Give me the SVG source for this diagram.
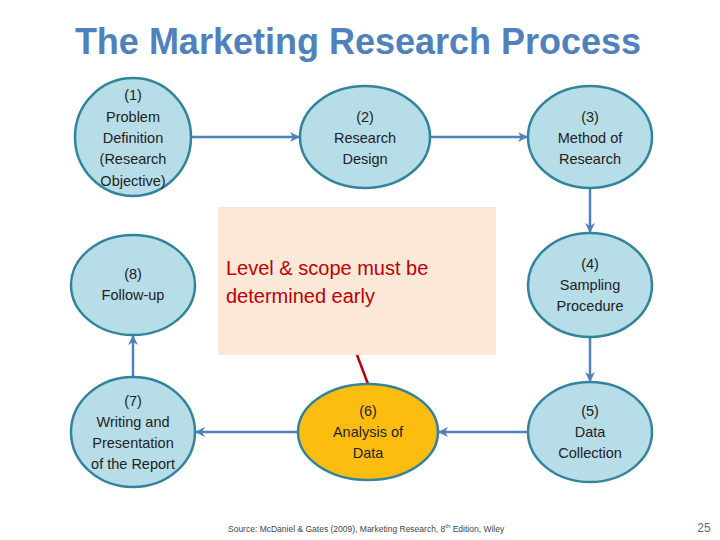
<svg xmlns="http://www.w3.org/2000/svg" width="720" height="540" viewBox="0 0 720 540">
<defs>
<style>
.n{fill:#b7dde8;stroke:#31849b;stroke-width:2.5}
.t{font-family:"Liberation Sans",Arial,sans-serif;font-size:14.5px;fill:#222;text-anchor:middle}
.c{stroke:#4f81bd;stroke-width:2.5;fill:none;marker-end:url(#a)}
</style>
<marker id="a" viewBox="0 0 10 10" refX="9" refY="5" markerWidth="4" markerHeight="4" orient="auto"><path d="M0,0L10,5L0,10L3,5z" fill="#4f81bd"/></marker>
</defs>
<rect width="720" height="540" fill="#fff"/>
<text x="358" y="54" font-family="'Liberation Sans',Arial,sans-serif" font-size="36" font-weight="bold" fill="#4f81bd" text-anchor="middle">The Marketing Research Process</text>
<g id="note"><rect x="218" y="207" width="278" height="148" fill="#fce8d8"/>
<text font-family="'Liberation Sans',Arial,sans-serif" font-size="20" fill="#c00000"><tspan x="226" y="275">Level &amp; scope must be</tspan><tspan x="226" y="303">determined early</tspan></text></g>
<g id="connectors">
<path class="c" d="M191,137H299"/>
<path class="c" d="M430,137H527"/>
<path class="c" d="M590,189V232"/>
<path class="c" d="M590,337V381"/>
<path class="c" d="M528,432H439"/>
<path class="c" d="M298,432H196"/>
<path class="c" d="M133,377V336"/>
<path d="M357,355L368,384" stroke="#c00000" stroke-width="2.5"/>
</g>
<g id="n1"><ellipse class="n" cx="133" cy="137" rx="58" ry="59"/><text class="t"><tspan x="133" y="100">(1)</tspan><tspan x="133" y="122">Problem</tspan><tspan x="133" y="143">Definition</tspan><tspan x="133" y="164">(Research</tspan><tspan x="133" y="186">Objective)</tspan></text></g>
<g id="n2"><ellipse class="n" cx="365" cy="137" rx="65" ry="51"/><text class="t"><tspan x="365" y="122">(2)</tspan><tspan x="365" y="143">Research</tspan><tspan x="365" y="164">Design</tspan></text></g>
<g id="n3"><ellipse class="n" cx="590" cy="137" rx="62" ry="51"/><text class="t"><tspan x="590" y="122">(3)</tspan><tspan x="590" y="143">Method of</tspan><tspan x="590" y="164">Research</tspan></text></g>
<g id="n4"><ellipse class="n" cx="590" cy="285" rx="62" ry="52"/><text class="t"><tspan x="590" y="269">(4)</tspan><tspan x="590" y="290">Sampling</tspan><tspan x="590" y="311">Procedure</tspan></text></g>
<g id="n5"><ellipse class="n" cx="590" cy="432" rx="62" ry="50"/><text class="t"><tspan x="590" y="416">(5)</tspan><tspan x="590" y="437">Data</tspan><tspan x="590" y="458">Collection</tspan></text></g>
<g id="n6"><ellipse cx="368" cy="432" rx="70" ry="48" fill="#fdbd10" stroke="#31849b" stroke-width="2.5"/><text class="t"><tspan x="368" y="416">(6)</tspan><tspan x="368" y="437">Analysis of</tspan><tspan x="368" y="458">Data</tspan></text></g>
<g id="n7"><ellipse class="n" cx="133" cy="432" rx="62" ry="55"/><text class="t"><tspan x="133" y="406">(7)</tspan><tspan x="133" y="427">Writing and</tspan><tspan x="133" y="448">Presentation</tspan><tspan x="133" y="469">of the Report</tspan></text></g>
<g id="n8"><ellipse class="n" cx="133" cy="285" rx="62" ry="50"/><text class="t"><tspan x="133" y="279">(8)</tspan><tspan x="133" y="300">Follow-up</tspan></text></g>
<text x="228" y="532" font-family="'Liberation Sans',Arial,sans-serif" font-size="8.5" fill="#444">Source: McDaniel &amp; Gates (2009), Marketing Research, 8<tspan font-size="6" dy="-4">th</tspan><tspan dy="4"> Edition, Wiley</tspan></text>
<text x="704" y="532" font-family="'Liberation Sans',Arial,sans-serif" font-size="12" fill="#666" text-anchor="middle">25</text>
</svg>
